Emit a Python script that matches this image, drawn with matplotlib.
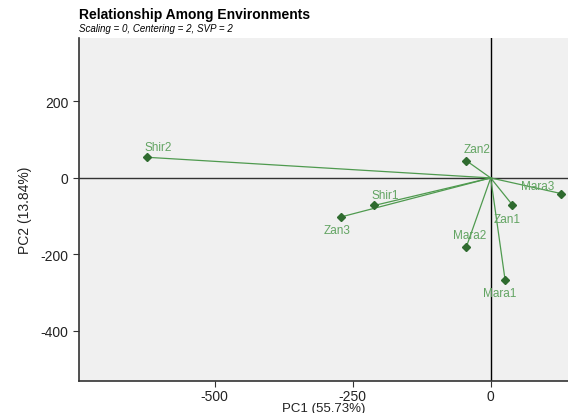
import matplotlib.pyplot as plt

plt.rcParams['font.family'] = ['Liberation Sans', 'DejaVu Sans']
plt.rcParams['axes.unicode_minus'] = False

# Environment scores on the first two principal components
envs = ['Shir2', 'Zan3', 'Shir1', 'Zan2', 'Mara3', 'Zan1', 'Mara2', 'Mara1']
pc1 = [-622, -271, -211, -44, 128, 39, -44, 26]
pc2 = [54, -102, -72, 45, -41, -70, -180, -266]

# label offsets in points (dx, dy) and alignment
offsets = {
    'Shir2': (-2, 3, 'left', 'bottom'),
    'Zan3': (-3, -5, 'center', 'top'),
    'Shir1': (-2, 3, 'left', 'bottom'),
    'Zan2': (-2, 4, 'left', 'bottom'),
    'Mara3': (-29, 1, 'left', 'bottom'),
    'Zan1': (-4, -6, 'center', 'top'),
    'Mara2': (2, 4, 'center', 'bottom'),
    'Mara1': (-4, -5, 'center', 'top'),
}

fig = plt.figure(figsize=(5.68, 4.14), dpi=100)
ax = fig.add_axes([0.1386, 0.0783, 0.8614, 0.8275])
ax.set_facecolor('#f0f0f0')

line_col = '#4f9a4f'
mark_col = '#2f6b2f'
text_col = '#62a462'

ax.axhline(0, color='#333333', lw=1, zorder=1)
ax.axvline(0, color='black', lw=1, zorder=1)

for name, x, y in zip(envs, pc1, pc2):
    ax.plot([0, x], [0, y], color=line_col, lw=0.9, zorder=2)
    ax.plot(x, y, marker='D', color=mark_col, markersize=4.5, zorder=3)
    dx, dy, ha, va = offsets[name]
    ax.annotate(name, (x, y), xytext=(dx, dy), textcoords='offset points',
                ha=ha, va=va, color=text_col, fontsize=8.5, zorder=4)

ax.set_xlim(-746, 140)
ax.set_ylim(-530, 366)
ax.set_xticks([-500, -250, 0])
ax.set_yticks([200, 0, -200, -400])
ax.tick_params(labelsize=10, color='#333333', length=4, labelcolor='#222222')
ax.tick_params(axis='x', pad=2)

for side in ['top', 'right']:
    ax.spines[side].set_visible(False)
for side in ['left', 'bottom']:
    ax.spines[side].set_linewidth(1.2)
    ax.spines[side].set_color('#333333')

ax.set_xlabel('PC1 (55.73%)', fontsize=9.5, labelpad=-1, color='#222222')
ax.set_ylabel('PC2 (13.84%)', fontsize=10, labelpad=6, color='#222222')

fig.text(0.139, 0.963, 'Relationship Among Environments', fontsize=10,
         fontweight='bold', ha='left', va='center')
fig.text(0.139, 0.93, 'Scaling = 0, Centering = 2, SVP = 2', fontsize=7,
         style='italic', ha='left', va='center')

fig.savefig('out.png', dpi=100)
